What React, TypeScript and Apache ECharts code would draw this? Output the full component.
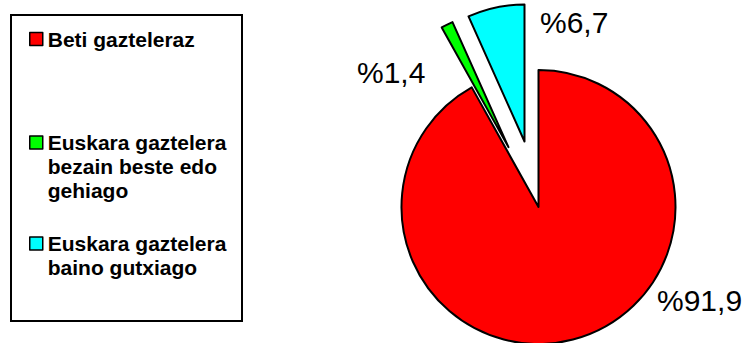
import React, { useEffect, useRef } from "react";
import * as echarts from "echarts";

const categories = [
  "Beti gazteleraz",
  "Euskara gaztelera\nbezain beste edo\ngehiago",
  "Euskara gaztelera\nbaino gutxiago",
];
const values = [91.9, 1.4, 6.7];
const exploded = [false, true, true];
const colors = ["#FF0000", "#00FF00", "#00FFFF"];

// label anchor positions (left edge, vertical middle), in px
const labelAnchors = [
  [657, 300],
  [357, 72],
  [540, 22],
];
// legend block tops
const legendTops = [27, 82.5, 207.5];

const FONT = "'Liberation Sans', Arial, Helvetica, sans-serif";
const LH = 24;

const fmt = (v: number) => "%" + v.toFixed(1).replace(".", ",");

export default function App() {
  const ref = useRef<HTMLDivElement>(null);
  useEffect(() => {
    if (!ref.current) return;
    const chart = echarts.init(ref.current, null, { renderer: "svg" });
    const legends = categories.map((name, i) => {
      const lines = name.split("\n").length;
      return {
        data: [name],
        left: 29,
        top: legendTops[i],
        orient: "vertical",
        padding: 0,
        icon: "rect",
        itemWidth: 13,
        itemHeight: 13,
        itemGap: 0,
        selectedMode: false,
        formatter: (n: string) => "\n".repeat(lines - 1) + n,
        itemStyle: { borderColor: "#000", borderWidth: 1.5 },
        textStyle: {
          fontFamily: FONT,
          fontSize: 21,
          fontWeight: "bold",
          color: "#000",
          lineHeight: LH,
        },
      };
    });
    const labelTexts = values.map((v, i) => ({
      type: "text",
      x: labelAnchors[i][0],
      y: labelAnchors[i][1],
      style: {
        text: fmt(v),
        font: "30px " + FONT,
        fill: "#000",
        align: "left",
        verticalAlign: "middle",
        textAlign: "left",
        textVerticalAlign: "middle",
      },
      z: 10,
    }));
    chart.setOption({
      animation: false,
      backgroundColor: "#fff",
      graphic: [
        {
          type: "rect",
          shape: { x: 11, y: 15, width: 231, height: 306 },
          style: { fill: "none", stroke: "#000", lineWidth: 2 },
          z: 0,
        },
        ...labelTexts,
      ],
      legend: legends,
      series: [
        {
          type: "pie",
          center: [538.5, 207],
          radius: 137,
          startAngle: 90,
          clockwise: true,
          selectedMode: "multiple",
          selectedOffset: 67,
          avoidLabelOverlap: false,
          emphasis: { disabled: true },
          itemStyle: { borderColor: "#000", borderWidth: 2 },
          label: { show: false },
          labelLine: { show: false },
          data: categories.map((name, i) => ({
            name,
            value: values[i],
            selected: exploded[i],
            itemStyle: { color: colors[i] },
          })),
        },
      ],
    });
    return () => chart.dispose();
  }, []);
  return (
    <div
      ref={ref}
      style={{ position: "absolute", left: 0, top: 0, width: 749, height: 343 }}
    />
  );
}
